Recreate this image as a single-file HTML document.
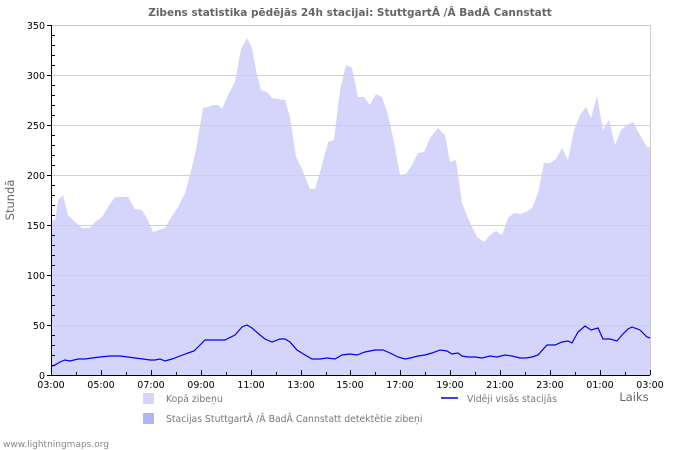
<!DOCTYPE html><html><head><style>body{margin:0;background:#fff}svg{display:block;font-family:"DejaVu Sans","Liberation Sans",sans-serif}</style></head><body>
<svg width="700" height="450" viewBox="0 0 700 450">
<text x="350" y="16" text-anchor="middle" font-size="10.5" font-weight="bold" fill="#666">Zibens statistika pēdējās 24h stacijai: StuttgartÂ /Â BadÂ Cannstatt</text>
<polygon fill="#d5d5fc" points="52,375 52,220 55,220 58,200 63,195 68,215 75,222 82,228 90,228 95,222 102,217 108,207 115,197 122,197 128,197 135,209 142,210 148,220 153,232 158,230 165,228 170,219 178,207 185,193 190,175 196,150 203,108 208,107 213,105 218,105 222,109 228,95 235,82 241,49 247,38 252,48 257,75 261,90 267,92 272,98 278,99 285,100 290,117 296,157 302,169 310,189 315,189 322,165 328,142 334,140 340,90 346,65 352,68 358,97 364,97 370,105 376,94 382,97 388,115 394,142 400,175 406,174 412,165 418,153 424,152 430,138 438,128 445,135 450,162 456,160 462,203 470,223 477,237 484,242 490,235 496,231 502,235 508,218 514,213 520,214 526,212 532,208 538,193 544,163 550,163 556,159 562,148 568,160 574,130 580,115 586,107 591,118 597,96 603,130 609,120 615,145 621,130 627,125 633,122 640,135 647,147 650,147 650,375"/>
<g stroke="#cfcfdf" stroke-width="1">
<line x1="52" y1="25.5" x2="650" y2="25.5" stroke="#ccc"/><line x1="52" y1="75.5" x2="650" y2="75.5"/><line x1="52" y1="125.5" x2="650" y2="125.5"/><line x1="52" y1="175.5" x2="650" y2="175.5"/><line x1="52" y1="225.5" x2="650" y2="225.5"/><line x1="52" y1="275.5" x2="650" y2="275.5"/><line x1="52" y1="325.5" x2="650" y2="325.5"/>
</g>
<line x1="650.5" y1="25" x2="650.5" y2="375" stroke="#ccc"/>
<polyline fill="none" stroke="#0000ee" stroke-width="1.2" points="52,366 55,365 60,362 65,360 70,361 78,359 85,359 92,358 100,357 110,356 120,356 128,357 135,358 143,359 150,360 155,360 160,359 165,361 172,359 180,356 188,353 194,351 200,345 205,340 215,340 225,340 235,335 242,327 247,325 252,328 260,335 265,339 272,342 280,339 285,339 290,342 297,350 305,355 312,359 320,359 327,358 335,359 342,355 350,354 357,355 365,352 375,350 383,350 390,353 398,357 405,359 410,358 418,356 425,355 432,353 440,350 447,351 452,354 458,353 462,356 468,357 475,357 482,358 490,356 497,357 505,355 512,356 520,358 526,358 532,357 538,355 547,345 555,345 562,342 568,341 572,343 578,332 585,326 591,330 598,328 603,339 610,339 617,341 622,335 628,329 632,327 640,330 647,337 650,338"/>
<line x1="51.5" y1="25" x2="51.5" y2="376" stroke="#000"/>
<line x1="51" y1="375.5" x2="650" y2="375.5" stroke="#000"/>
<g stroke="#000">
<path d="M52 35.5h3M52 45.5h3M52 55.5h3M52 65.5h3M52 85.5h3M52 95.5h3M52 105.5h3M52 115.5h3M52 135.5h3M52 145.5h3M52 155.5h3M52 165.5h3M52 185.5h3M52 195.5h3M52 205.5h3M52 215.5h3M52 235.5h3M52 245.5h3M52 255.5h3M52 265.5h3M52 285.5h3M52 295.5h3M52 305.5h3M52 315.5h3M52 335.5h3M52 345.5h3M52 355.5h3M52 365.5h3"/>
<path d="M47 25.5h5M47 75.5h5M47 125.5h5M47 175.5h5M47 225.5h5M47 275.5h5M47 325.5h5M47 375.5h5"/>
</g>
<g id="xt" stroke="#000"></g>
<script>
var g=document.getElementById('xt'),s='';for(var i=0;i<=24;i++){var x=Math.round(51+i*24.958)+0.5;s+='M'+x+' 375v'+(i%2==0?-5:-3);}
var p=document.createElementNS('http://www.w3.org/2000/svg','path');p.setAttribute('d',s);g.appendChild(p);
</script>
<g font-size="9.5" fill="#000" text-anchor="end">
<text x="45" y="29">350</text><text x="45" y="79">300</text><text x="45" y="129">250</text><text x="45" y="179">200</text><text x="45" y="229">150</text><text x="45" y="279">100</text><text x="45" y="329">50</text><text x="45" y="379">0</text>
</g>
<g font-size="9.5" fill="#000" text-anchor="middle">
<text x="51" y="388">03:00</text><text x="101" y="388">05:00</text><text x="151" y="388">07:00</text><text x="201" y="388">09:00</text><text x="251" y="388">11:00</text><text x="301" y="388">13:00</text><text x="350" y="388">15:00</text><text x="400" y="388">17:00</text><text x="450" y="388">19:00</text><text x="500" y="388">21:00</text><text x="550" y="388">23:00</text><text x="600" y="388">01:00</text><text x="650" y="388">03:00</text>
</g>
<text x="634" y="401" font-size="11.5" fill="#666" text-anchor="middle">Laiks</text>
<text transform="translate(14,200) rotate(-90)" font-size="11.5" fill="#666" text-anchor="middle">Stundā</text>
<rect x="143" y="393" width="11" height="11" fill="#d5d5fc"/>
<text x="166" y="402" font-size="9.3" fill="#777">Kopā zibeņu</text>
<rect x="143" y="413" width="11" height="11" fill="#b3b3f8"/>
<text x="166" y="422" font-size="9.3" fill="#777">Stacijas StuttgartÂ /Â BadÂ Cannstatt detektētie zibeņi</text>
<line x1="441" y1="398" x2="458" y2="398" stroke="#0000ee" stroke-width="1.5"/>
<text x="467" y="402" font-size="9.3" fill="#777">Vidēji visās stacijās</text>
<text x="3" y="447" font-size="9" fill="#888">www.lightningmaps.org</text>
</svg></body></html>
